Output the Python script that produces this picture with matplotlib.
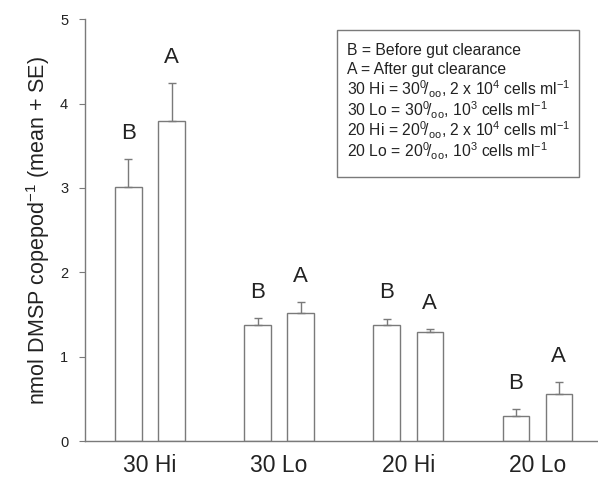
import matplotlib
matplotlib.use("Agg")
import matplotlib.pyplot as plt
from matplotlib.patches import Rectangle
import numpy as np

plt.rcParams['font.family'] = ['Liberation Sans', 'DejaVu Sans']
plt.rcParams['mathtext.fontset'] = 'custom'
plt.rcParams['mathtext.rm'] = 'Liberation Sans'
plt.rcParams['mathtext.it'] = 'Liberation Sans:italic'

# data
groups = ["30 Hi", "30 Lo", "20 Hi", "20 Lo"]
before_mean = [3.01, 1.38, 1.37, 0.30]
before_se = [0.33, 0.08, 0.08, 0.08]
after_mean = [3.80, 1.52, 1.29, 0.56]
after_se = [0.44, 0.13, 0.04, 0.14]

legend_lines = [
    "B = Before gut clearance",
    "A = After gut clearance",
    r"30 Hi = 30$^{0}\!/_{\mathrm{oo}}$, 2 x 10$^{4}$ cells ml$^{-1}$",
    r"30 Lo = 30$^{0}\!/_{\mathrm{oo}}$, 10$^{3}$ cells ml$^{-1}$",
    r"20 Hi = 20$^{0}\!/_{\mathrm{oo}}$, 2 x 10$^{4}$ cells ml$^{-1}$",
    r"20 Lo = 20$^{0}\!/_{\mathrm{oo}}$, 10$^{3}$ cells ml$^{-1}$",
]

line_col = "#7a7a7a"
text_col = "#222222"

fig = plt.figure(figsize=(5.98, 4.82), dpi=100)
ax = fig.add_axes([0.142, 0.085, 0.858, 0.875])

x = np.arange(len(groups))
off = 0.167
width = 0.205

for xs, means, ses, tag in [(x - off, before_mean, before_se, "B"),
                            (x + off, after_mean, after_se, "A")]:
    ax.bar(xs, means, width, color="white", edgecolor=line_col, linewidth=1.0, zorder=2)
    ax.errorbar(xs, means, yerr=[np.zeros(len(ses)), ses], fmt="none",
                ecolor=line_col, elinewidth=1.0, capsize=3, capthick=1.0, zorder=3)
    for xi, m, s in zip(xs, means, ses):
        ax.text(xi, m + s + 0.24, tag, ha="center", va="baseline",
                fontsize=16, color=text_col)

ax.set_xlim(-0.504, 3.47)
ax.set_ylim(0, 5)
ax.set_xticks(x)
ax.set_xticklabels(groups, fontsize=16.5, color=text_col)
ax.tick_params(axis="x", length=0, pad=9)
ax.set_yticks(range(6))
ax.tick_params(axis="y", length=4, width=0.8, color=line_col, labelsize=10.5,
               labelcolor=text_col, pad=8)
ax.set_ylabel(r"nmol DMSP copepod$^{-1}$ (mean + SE)", fontsize=15.5,
              color=text_col, labelpad=6)

for side in ["top", "right"]:
    ax.spines[side].set_visible(False)
for side in ["left", "bottom"]:
    ax.spines[side].set_color(line_col)
    ax.spines[side].set_linewidth(1.0)


# legend box placed in pixel terms of the axes (left 85px, bottom 441px, 513 x 422 px)
def px(xp, yp):
    return (xp - 85) / 513.0, (441 - yp) / 421.8


bx0, by0 = px(337, 177)
bx1, by1 = px(579, 30)
ax.add_patch(Rectangle((bx0, by0), bx1 - bx0, by1 - by0, transform=ax.transAxes,
                       facecolor="white", edgecolor=line_col, linewidth=1.0, zorder=4))
baselines = [55, 74, 95, 116, 136, 157]
for line, yb in zip(legend_lines, baselines):
    tx, ty = px(347, yb)
    ax.text(tx, ty, line, transform=ax.transAxes, ha="left", va="baseline",
            fontsize=11.3, color=text_col, zorder=5)

fig.savefig("out.png", dpi=100)
plt.close(fig)
